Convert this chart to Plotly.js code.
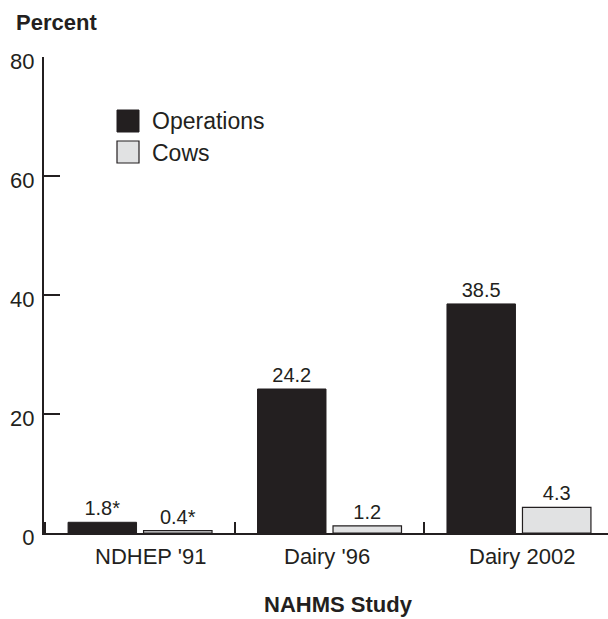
<!DOCTYPE html>
<html>
<head>
<meta charset="utf-8">
<script src="https://cdn.plot.ly/plotly-3.0.1.min.js"></script>
<style>html,body{margin:0;padding:0;background:#fff;}#chart{width:608px;height:619px;}</style>
</head>
<body>
<div id="chart"></div>
<script>
const categories = ["NDHEP '91", "Dairy '96", "Dairy 2002"];
const operations = [1.8, 24.2, 38.5];
const cows = [0.4, 1.2, 4.3];
const operationsLabels = ["1.8*", "24.2", "38.5"];
const cowsLabels = ["0.4*", "1.2", "4.3"];
const yTicks = [0, 20, 40, 60, 80];
const seriesNames = ["Operations", "Cows"];

const W = 608, H = 619, L = 44, R = 0, T = 57, B = 86;
const pw = W - L - R, ph = H - T - B;
const px = x => (x - L) / pw;
const py = y => (H - B - y) / ph;
const font = "Liberation Sans, Arial, Helvetica, sans-serif";
const ink = "#231f20";

const traces = [
  {type: "bar", name: seriesNames[0], x: categories, y: operations, text: operationsLabels,
   textposition: "outside", cliponaxis: false, textfont: {size: 20, color: ink, family: font},
   marker: {color: ink, line: {color: ink, width: 1}}, hoverinfo: "skip"},
  {type: "bar", name: seriesNames[1], x: categories, y: cows, text: cowsLabels,
   textposition: "outside", cliponaxis: false, textfont: {size: 20, color: ink, family: font},
   marker: {color: "#e1e2e3", line: {color: ink, width: 1.2}}, hoverinfo: "skip"}
];

const labelShift = [10, -3, 3];
const annotations = categories.map((c, i) => ({
  x: c, xref: "x", xanchor: "center", y: py(556), yref: "paper", yanchor: "middle",
  text: c, showarrow: false, xshift: labelShift[i],
  font: {size: 22, color: ink, family: font}
}));
annotations.push({x: px(14), xref: "paper", xanchor: "left", y: py(22), yref: "paper", yanchor: "middle",
  text: "<b>Percent</b>", showarrow: false, font: {size: 22, color: ink, family: font}});
annotations.push({x: px(338), xref: "paper", xanchor: "center", y: py(604), yref: "paper", yanchor: "middle",
  text: "<b>NAHMS Study</b>", showarrow: false, font: {size: 22, color: ink, family: font}});
annotations.push({x: px(150), xref: "paper", xanchor: "left", y: py(121), yref: "paper", yanchor: "middle",
  text: seriesNames[0], showarrow: false, font: {size: 23, color: ink, family: font}});
annotations.push({x: px(150), xref: "paper", xanchor: "left", y: py(153), yref: "paper", yanchor: "middle",
  text: seriesNames[1], showarrow: false, font: {size: 23, color: ink, family: font}});

const shapes = [
  {type: "rect", xref: "paper", yref: "paper", x0: px(117), x1: px(139), y0: py(132), y1: py(110),
   fillcolor: ink, line: {color: ink, width: 1}},
  {type: "rect", xref: "paper", yref: "paper", x0: px(117), x1: px(139), y0: py(163), y1: py(141),
   fillcolor: "#e1e2e3", line: {color: ink, width: 1.2}}
];

const layout = {
  width: W, height: H,
  margin: {l: L, r: R, t: T, b: B, pad: 0},
  paper_bgcolor: "#fff", plot_bgcolor: "#fff",
  showlegend: false,
  barmode: "group", bargap: 0.203, bargroupgap: 0.093,
  font: {family: font, color: ink},
  xaxis: {type: "category", range: [-0.507, 2.47], showgrid: false, zeroline: false,
    showline: true, linecolor: ink, linewidth: 2, ticks: "inside", tickson: "boundaries",
    ticklen: 11, tickwidth: 2, tickcolor: ink, showticklabels: false, fixedrange: true},
  yaxis: {range: [0, 80], tickvals: yTicks, ticktext: yTicks.map(String), showgrid: false,
    zeroline: false, showline: true, linecolor: ink, linewidth: 2, ticks: "inside",
    ticklen: 16, tickwidth: 2, tickcolor: ink, ticklabelstandoff: 3, ticklabelshift: 4,
    tickfont: {size: 22, color: ink, family: font}, fixedrange: true},
  annotations: annotations,
  shapes: shapes
};

Plotly.newPlot("chart", traces, layout, {displayModeBar: false, staticPlot: true});
</script>
</body>
</html>
